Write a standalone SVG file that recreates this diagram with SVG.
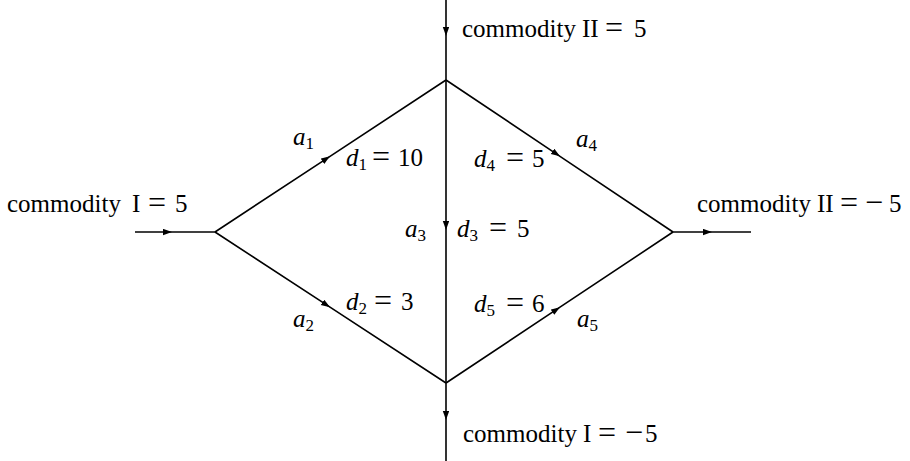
<svg xmlns="http://www.w3.org/2000/svg" width="910" height="461" viewBox="0 0 910 461">
<style>
text{font-family:"Liberation Serif","Times New Roman",serif;font-size:25px;fill:#000}
.i{font-style:italic}
.s{font-size:17px}
.e{font-size:32px}
.edge{fill:none;stroke:#000;stroke-width:1.6;marker-mid:url(#arr)}
</style>
<defs>
<marker id="arr" markerUnits="userSpaceOnUse" markerWidth="10" markerHeight="7" refX="9" refY="3.2" orient="auto" viewBox="0 0 10 7">
<path d="M0,0 L9,3.2 L0,6.4 Z" fill="#000"/>
</marker>
</defs>
<rect width="910" height="461" fill="#fff"/>
<g id="connectors">
<path id="in-left" class="edge" d="M135,232 L172,232 L215,232"/>
<path id="e-a1" class="edge" d="M215,232 L330,156.3 L446,80"/>
<path id="e-a2" class="edge" d="M215,232 L330,307.2 L446,383"/>
<path id="e-a3" class="edge" d="M446,80 L446,230 L446,383"/>
<path id="e-a4" class="edge" d="M446,80 L560,156.3 L673,232"/>
<path id="e-a5" class="edge" d="M446,383 L560,307.2 L673,232"/>
<path id="in-top" class="edge" d="M446,0 L446,36 L446,80"/>
<path id="out-bottom" class="edge" d="M446,383 L446,420 L446,461"/>
<path id="out-right" class="edge" d="M673,232 L712,232 L751,232"/>
</g>
<g id="node-left">
<text y="212"><tspan x="7">commodity</tspan><tspan x="132">I</tspan><tspan x="148" dy="1" class="e">=</tspan><tspan x="175" dy="-1">5</tspan></text>
</g>
<g id="node-top">
<text y="37"><tspan x="462">commodity</tspan><tspan x="582">II</tspan><tspan x="605" dy="1" class="e">=</tspan><tspan x="634" dy="-1">5</tspan></text>
</g>
<g id="node-right">
<text y="212"><tspan x="697">commodity</tspan><tspan x="817">II</tspan><tspan x="840" dy="1" class="e">=</tspan><tspan x="865" class="e">−</tspan><tspan x="889" dy="-1">5</tspan></text>
</g>
<g id="node-bottom">
<text y="442"><tspan x="463">commodity</tspan><tspan x="583">I</tspan><tspan x="598" dy="1" class="e">=</tspan><tspan x="625" class="e">−</tspan><tspan x="645" dy="-1">5</tspan></text>
</g>
<g id="labels">
<text x="293" y="145"><tspan class="i">a</tspan><tspan class="s" dy="4">1</tspan></text>
<text x="293" y="327"><tspan class="i">a</tspan><tspan class="s" dy="4">2</tspan></text>
<text x="405" y="237"><tspan class="i">a</tspan><tspan class="s" dy="4">3</tspan></text>
<text x="576" y="147"><tspan class="i">a</tspan><tspan class="s" dy="4">4</tspan></text>
<text x="577" y="327"><tspan class="i">a</tspan><tspan class="s" dy="4">5</tspan></text>
<text y="166"><tspan x="346" class="i">d</tspan><tspan class="s" dy="4">1</tspan><tspan x="372" dy="-3" class="e">=</tspan><tspan x="398" dy="-1">10</tspan></text>
<text y="310"><tspan x="346" class="i">d</tspan><tspan class="s" dy="4">2</tspan><tspan x="374" dy="-3" class="e">=</tspan><tspan x="401" dy="-1">3</tspan></text>
<text y="237"><tspan x="457" class="i">d</tspan><tspan class="s" dy="4">3</tspan><tspan x="489" dy="-3" class="e">=</tspan><tspan x="517" dy="-1">5</tspan></text>
<text y="167"><tspan x="474" class="i">d</tspan><tspan class="s" dy="4">4</tspan><tspan x="506" dy="-3" class="e">=</tspan><tspan x="532" dy="-1">5</tspan></text>
<text y="312"><tspan x="474" class="i">d</tspan><tspan class="s" dy="4">5</tspan><tspan x="506" dy="-3" class="e">=</tspan><tspan x="532" dy="-1">6</tspan></text>
</g>
</svg>
